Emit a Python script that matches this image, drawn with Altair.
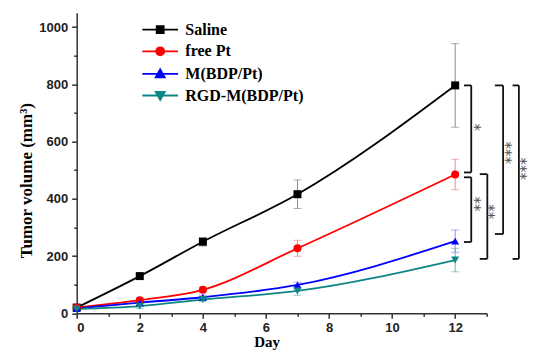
import altair as alt
import pandas as pd

# ---------------- data ----------------
series = ["Saline", "free Pt", "M(BDP/Pt)", "RGD-M(BDP/Pt)"]
colors = ["#000000", "#ff0000", "#0000ff", "#0e8585"]
err_colors = ["#8c8c8c", "#f08a8a", "#8a8aff", "#6fb3b3"]
shapes = ["square", "circle", "triangle-up", "triangle-down"]
# legend symbols: line segment + marker
legend_paths = [
    "M-3.57,0H3.57M-0.7,-0.7H0.7V0.7H-0.7Z",
    "M-3.57,0H3.57M-0.8,0A0.8,0.8 0 1,0 0.8,0A0.8,0.8 0 1,0 -0.8,0Z",
    "M-3.57,0H3.57M0,-0.9L0.9,0.7H-0.9Z",
    "M-3.57,0H3.57M0,0.9L0.9,-0.7H-0.9Z",
]

days = [0, 2, 4, 7, 12]
saline = [20, 130, 250, 416, 796]
saline_err = [5, 6, 15, 50, 146]
free_pt = [20, 46, 82, 227, 485]
free_pt_err = [4, 7, 10, 28, 53]
m_bdp = [17, 37, 56, 99, 252]
m_bdp_err = [3, 5, 7, 10, 39]
rgd = [15, 25, 48, 78, 186]
rgd_err = [3, 8, 8, 15, 41]

values = [saline, free_pt, m_bdp, rgd]
errors = [saline_err, free_pt_err, m_bdp_err, rgd_err]

# significance brackets (x in days, y in mm³)
br_left = [12.28, 12.28, 12.78, 13.26, 13.82]
br_right = [12.51, 12.51, 13.02, 13.52, 14.02]
br_top = [796, 475, 486, 796, 796]
br_bottom = [492, 249, 190, 277, 190]
# significance labels (stacked asterisks): centre x, centre y
star_label = ["*", "**", "**", "***", "***"]
star_x = [12.74, 12.74, 13.18, 13.72, 14.20]
star_y = [650, 382, 355, 561, 505]

rows = []
for s, c, ec, vals, errs in zip(series, colors, err_colors, values, errors):
    for d, v, e in zip(days, vals, errs):
        rows.append({"series": s, "color": c, "ecol": ec, "day": d, "vol": v,
                     "lo": v - e, "hi": v + e})
df = pd.DataFrame(rows)

br = pd.DataFrame({"xl": br_left, "xr": br_right, "yt": br_top, "yb": br_bottom})
stars = pd.DataFrame({"sx": star_x, "sy": star_y, "t": star_label})

# ---------------- axes ----------------
x_scale = alt.Scale(domain=[0, 13], nice=False, zero=False)
y_scale = alt.Scale(domain=[0, 1050], nice=False)

x_axis = alt.Axis(
    title="Day", values=list(range(14)), format="d",
    labelExpr="datum.value % 2 === 0 ? datum.label : ''",
    tickSize={"condition": {"test": "datum.value % 2 === 0", "value": 5}, "value": 3},
    grid=False, labelPadding=3,
    titleX=190, titleY=33, titleBaseline="alphabetic", titleFontSize=15,
)
y_axis = alt.Axis(
    title="Tumor volume (mm³)", values=list(range(0, 1001, 100)), format="d",
    labelExpr="datum.value % 200 === 0 ? datum.label : ''",
    tickSize={"condition": {"test": "datum.value % 200 === 0", "value": 5}, "value": 3},
    grid=False, labelPadding=4,
    titleX=-44.7, titleY=167.5, titleBaseline="alphabetic", titleFontSize=17,
)

X = alt.X("day:Q", scale=x_scale, axis=x_axis)
Y = alt.Y("vol:Q", scale=y_scale, axis=y_axis)

base = alt.Chart(df)

err_rule = base.mark_rule(strokeWidth=1).encode(
    x=X, y=alt.Y("lo:Q", scale=y_scale, axis=y_axis), y2="hi:Q",
    color=alt.Color("ecol:N", scale=None),
)
cap_lo = base.mark_tick(orient="horizontal", size=8, thickness=1).encode(
    x=X, y=alt.Y("lo:Q", scale=y_scale, axis=y_axis),
    color=alt.Color("ecol:N", scale=None),
)
cap_hi = base.mark_tick(orient="horizontal", size=8, thickness=1).encode(
    x=X, y=alt.Y("hi:Q", scale=y_scale, axis=y_axis),
    color=alt.Color("ecol:N", scale=None),
)
lines = base.mark_line(interpolate="monotone", strokeWidth=1.8).encode(
    x=X, y=Y, color=alt.Color("color:N", scale=None), detail="series:N",
)
points = base.mark_point(filled=True, size=64, opacity=1).encode(
    x=X, y=Y, color=alt.Color("color:N", scale=None),
    shape=alt.Shape("series:N", scale=alt.Scale(domain=series, range=shapes), legend=None),
)

leg = alt.Legend(
    title=None, orient="none", legendX=75.5, legendY=9, padding=0,
    symbolSize=100, symbolStrokeWidth=1.8, labelOffset=17.1, rowPadding=5.6,
    labelFont="Liberation Serif", labelFontWeight="bold", labelFontSize=16,
    labelColor="#000000", symbolOpacity=1,
)
legend_layer = alt.Chart(pd.DataFrame({"series": series})).mark_point(
    filled=True, size=100, strokeWidth=1.8
).encode(
    fill=alt.Fill("series:N", scale=alt.Scale(domain=series, range=colors), legend=leg),
    stroke=alt.Stroke("series:N", scale=alt.Scale(domain=series, range=colors), legend=leg),
    shape=alt.Shape("series:N", scale=alt.Scale(domain=series, range=legend_paths), legend=leg),
).transform_filter("false")

bbase = alt.Chart(br)
br_vert = bbase.mark_rule(strokeWidth=1.8, color="#111111", clip=False).encode(
    x=alt.X("xr:Q", scale=x_scale, axis=x_axis),
    y=alt.Y("yt:Q", scale=y_scale, axis=y_axis), y2="yb:Q",
)
br_top_l = bbase.mark_rule(strokeWidth=1.8, color="#111111", clip=False).encode(
    x=alt.X("xl:Q", scale=x_scale, axis=x_axis), x2="xr:Q",
    y=alt.Y("yt:Q", scale=y_scale, axis=y_axis),
)
br_bot_l = bbase.mark_rule(strokeWidth=1.8, color="#111111", clip=False).encode(
    x=alt.X("xl:Q", scale=x_scale, axis=x_axis), x2="xr:Q",
    y=alt.Y("yb:Q", scale=y_scale, axis=y_axis),
)
# rotated 90°: dy (text-local) moves the glyphs left on screen
br_text = alt.Chart(stars).mark_text(
    font="DejaVu Sans", fontSize=15, color="#555555", angle=90,
    baseline="middle", align="center", clip=False, dy=4.3,
).encode(
    x=alt.X("sx:Q", scale=x_scale, axis=x_axis),
    y=alt.Y("sy:Q", scale=y_scale, axis=y_axis),
    text="t:N",
)

chart = alt.layer(
    err_rule, cap_lo, cap_hi, lines, points, legend_layer,
    br_vert, br_top_l, br_bot_l, br_text,
).resolve_scale(
    shape="independent", fill="independent", stroke="independent"
).properties(
    width=410, height=300.6,
    autosize=alt.AutoSizeParams(type="none"),
    padding={"left": 68.7, "top": 4.7, "right": 45.3, "bottom": 36.7},
).configure_view(stroke=None).configure_axis(
    domainColor="#333333", domainWidth=1.5, tickColor="#333333", tickWidth=1.5,
    labelFont="Liberation Sans", labelFontWeight="bold", labelFontSize=13,
    labelColor="#222222", titleFont="Liberation Serif", titleFontWeight="bold",
    titleColor="#000000",
)

chart.save("out.html", embed_options={"renderer": "svg", "actions": False})
